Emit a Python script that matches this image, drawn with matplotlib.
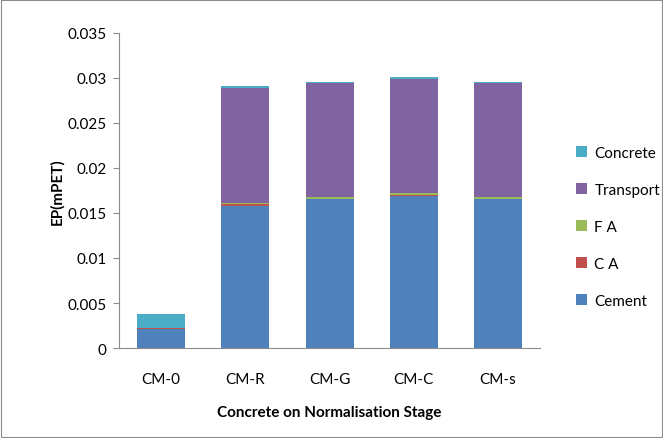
import numpy as np
import matplotlib.pyplot as plt
from matplotlib.patches import Rectangle

categories = ['CM-0', 'CM-R', 'CM-G', 'CM-C', 'CM-s']
cement = [0.0021, 0.0158, 0.0165, 0.0169, 0.0165]
ca = [0.0001, 0.0002, 0.0001, 0.0001, 0.0001]
fa = [0.00005, 0.0001, 0.0002, 0.0002, 0.0002]
transport = [0.0, 0.0128, 0.0126, 0.0127, 0.0126]
concrete = [0.00155, 0.0002, 0.0002, 0.0002, 0.0002]

series = [('Cement', cement, '#4F81BD'),
          ('C A', ca, '#C0504D'),
          ('F A', fa, '#9BBB59'),
          ('Transport', transport, '#8064A2'),
          ('Concrete', concrete, '#4BACC6')]

plt.rcParams['font.family'] = ['Lato', 'DejaVu Sans']

fig = plt.figure(figsize=(6.63, 4.39), dpi=100)
fig.patches.append(Rectangle((0.002, 0.002), 0.996, 0.996, transform=fig.transFigure,
                             fill=False, edgecolor='#8c8c8c', linewidth=0.8))
ax = fig.add_axes([0.1795, 0.205, 0.635, 0.7176])

x = np.arange(len(categories))
bottom = np.zeros(len(categories))
handles = []
for name, vals, color in series:
    b = ax.bar(x, vals, 0.57, bottom=bottom, color=color, label=name)
    bottom += np.array(vals)
    handles.append(b)

ax.set_xlim(-0.5, len(categories) - 0.5)
ax.set_ylim(0, 0.035)
ax.set_yticks(np.arange(0, 0.0351, 0.005))
ax.set_yticklabels(['0', '0.005', '0.01', '0.015', '0.02', '0.025', '0.03', '0.035'])
ax.set_xticks(x)
ax.set_xticklabels(categories)
ax.tick_params(axis='both', labelsize=11, colors='#8c8c8c', labelcolor='black')
ax.tick_params(axis='x', length=0, pad=17)
ax.tick_params(axis='y', length=4, pad=5)
for s in ['top', 'right']:
    ax.spines[s].set_visible(False)
for s in ['left', 'bottom']:
    ax.spines[s].set_color('#8c8c8c')

ax.set_ylabel('EP(mPET)', fontsize=11, fontweight='bold', labelpad=2)
ax.set_xlabel('Concrete on Normalisation Stage', fontsize=11, fontweight='bold', labelpad=14)

leg = fig.legend(handles[::-1], [s[0] for s in series][::-1], loc='center left',
                 bbox_to_anchor=(0.848, 0.481), frameon=False, fontsize=11,
                 handlelength=0.7, handleheight=0.7, handletextpad=0.5, labelspacing=1.5)

fig.savefig('out.png', dpi=100)
